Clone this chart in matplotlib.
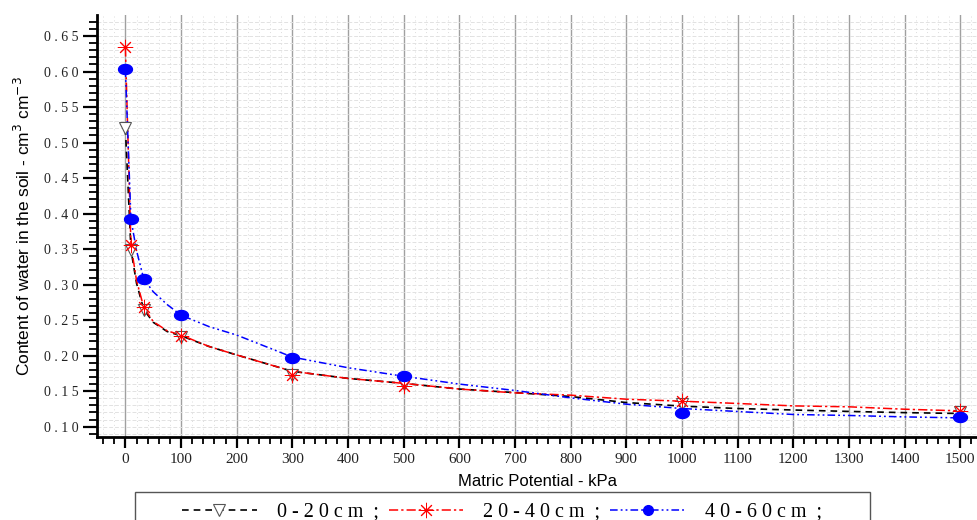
import numpy as np
import matplotlib
matplotlib.use("Agg")
import matplotlib.pyplot as plt
from matplotlib.ticker import MultipleLocator, FuncFormatter
from matplotlib.patches import Rectangle
from matplotlib.path import Path

# measured points (kPa, cm3/cm3)
suction = [0, 10, 33, 100, 300, 500, 1000, 1500]
theta_0_20 = [0.520, 0.349, 0.264, 0.226, 0.173, 0.160, 0.132, 0.120]
theta_20_40 = [0.634, 0.356, 0.268, 0.228, 0.173, 0.157, 0.136, 0.122]
theta_40_60 = [0.603, 0.392, 0.308, 0.257, 0.197, 0.171, 0.119, 0.113]

# fitted curves
curve_x = [0, 10, 20, 33, 50, 75, 100, 150, 200, 300, 400, 500, 600, 700,
           800, 900, 1000, 1100, 1200, 1300, 1400, 1500]
curve_0_20 = [0.520, 0.349, 0.302, 0.265, 0.247, 0.234, 0.228, 0.213, 0.201, 0.178,
              0.168, 0.161, 0.153, 0.148, 0.1425, 0.134, 0.129, 0.1256, 0.1235,
              0.1215, 0.1198, 0.1186]
curve_20_40 = [0.634, 0.356, 0.306, 0.268, 0.248, 0.235, 0.229, 0.213, 0.201, 0.178,
               0.168, 0.161, 0.153, 0.1476, 0.1444, 0.1387, 0.1359, 0.1327, 0.1293,
               0.128, 0.1246, 0.1223]
curve_40_60 = [0.603, 0.392, 0.348, 0.308, 0.290, 0.272, 0.257, 0.241, 0.229, 0.198,
               0.183, 0.171, 0.160, 0.151, 0.1406, 0.1317, 0.1256, 0.1214, 0.1172,
               0.1158, 0.1138, 0.1124]

labels = ["0 - 2 0 c m  ;", "2 0 - 4 0 c m  ;", "4 0 - 6 0 c m  ;"]

# flattened ellipse marker for the blue series
t = np.linspace(0, 2 * np.pi, 40)
ellipse = Path(np.column_stack([np.cos(t), 0.72 * np.sin(t)]), closed=True)

ls_black = (0, (4, 3))
ls_red = (0, (6, 2, 1.5, 2))
ls_blue = (0, (5, 2, 1.2, 2, 1.2, 2))

fig = plt.figure(figsize=(9.77, 5.2), dpi=100)
ax = fig.add_axes([97 / 977, 83 / 520, 880 / 977, 422 / 520])

ax.plot(curve_x, curve_0_20, color="black", ls=ls_black, lw=1.2, zorder=3)
ax.plot(curve_x, curve_20_40, color="red", ls=ls_red, lw=1.1, zorder=3)
ax.plot(curve_x, curve_40_60, color="blue", ls=ls_blue, lw=1.1, zorder=3)

ax.plot(suction, theta_0_20, ls="none", marker="v", ms=9, mfc="white", mec="#555555", mew=0.8, zorder=4)
ax.plot(suction, theta_20_40, ls="none", marker=(8, 2, 0), ms=11, mec="red", mew=0.7, zorder=5)
ax.plot(suction, theta_40_60, ls="none", marker=ellipse, ms=10, mfc="blue", mec="blue", zorder=6)

# legend handles
h1, = ax.plot([], [], color="black", ls=ls_black, lw=1.2, marker="v", ms=9, mfc="white", mec="#555555", mew=0.8)
h2, = ax.plot([], [], color="red", ls=ls_red, lw=1.1, marker=(8, 2, 0), ms=11, mec="red", mew=0.7)
h3, = ax.plot([], [], color="blue", ls=ls_blue, lw=1.1, marker="o", ms=7, mfc="blue", mec="blue")

ax.set_xlim(-51, 1530)
ax.set_ylim(0.0855, 0.6796)

ax.xaxis.set_major_locator(MultipleLocator(100))
ax.xaxis.set_minor_locator(MultipleLocator(20))
ax.yaxis.set_major_locator(MultipleLocator(0.05))
ax.yaxis.set_minor_locator(MultipleLocator(0.01))

ax.xaxis.set_major_formatter(FuncFormatter(lambda v, p: f"{int(round(v))}"))
ax.yaxis.set_major_formatter(FuncFormatter(lambda v, p: " ".join(f"{v:.2f}")))

for lab in ax.get_xticklabels() + ax.get_yticklabels():
    lab.set_family("Liberation Serif")
ax.tick_params(axis="y", which="major", labelsize=10)
ax.tick_params(axis="x", which="major", labelsize=11)
ax.tick_params(axis="both", which="major", colors="black", labelcolor="#222222")
ax.tick_params(axis="y", which="major", length=10, width=1.6, direction="out")
ax.tick_params(axis="y", which="minor", length=6, width=1.3, direction="out")
ax.tick_params(axis="x", which="major", length=8, width=1.6, direction="out")
ax.tick_params(axis="x", which="minor", length=5, width=1.3, direction="out")

ax.grid(axis="x", which="major", color="#a0a0a0", lw=1.0, ls="-")
ax.grid(axis="x", which="minor", color="#dddddd", lw=0.7, ls=(0, (1, 3)))
ax.grid(axis="y", which="both", color="#e2e2e2", lw=0.7, ls=(0, (4, 2)))
ax.set_axisbelow(True)

for s in ["top", "right"]:
    ax.spines[s].set_visible(False)
for s in ["left", "bottom"]:
    ax.spines[s].set_linewidth(2)

ax.set_xlabel("Matric Potential - kPa", family="Liberation Sans", fontsize=12, labelpad=6)
ax.set_ylabel("Content of water in the soil - cm$^3$ cm$^{-3}$", family="Liberation Sans",
              fontsize=12.5, labelpad=8)

# legend box runs off the bottom of the picture
fig.add_artist(Rectangle((135 / 977, -0.1), (870 - 135) / 977, 0.1 + 28 / 520,
                         transform=fig.transFigure, fill=False, edgecolor="#555555", lw=1.0))
leg = fig.legend([h1, h2, h3], labels, ncol=3, loc="center left",
                 bbox_to_anchor=(182 / 977, 1 - 512 / 520), borderaxespad=0, borderpad=0,
                 prop={"family": "Liberation Serif", "size": 14.5},
                 handlelength=3.7, handletextpad=1.0, columnspacing=0.5, frameon=False)

fig.savefig("out.png", dpi=100)
